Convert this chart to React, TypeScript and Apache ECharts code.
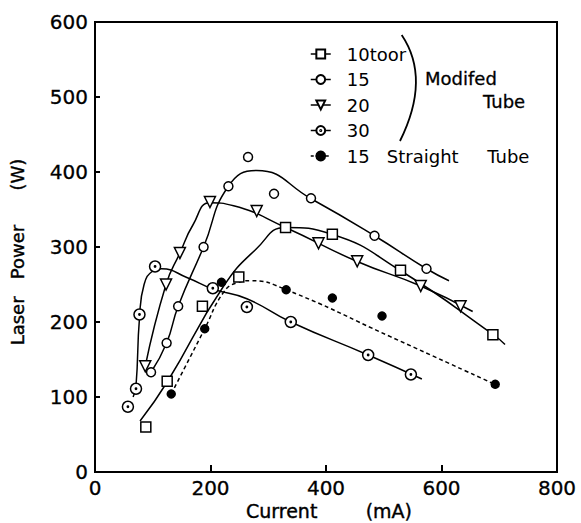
import React, { useEffect, useRef } from "react";
import * as echarts from "echarts";

// Tick values
const xTicks = [0, 200, 400, 600, 800];
const yTicks = [0, 100, 200, 300, 400, 500, 600];

// Series names (legend)
const names = ["10toor", "15", "20", "30", "15   Straight     Tube"];

// Measured points [current mA, laser power W]
const pts10 = [[88, 60], [125, 121], [186, 221], [249, 260], [330, 326], [411, 317], [529, 269], [689, 183]];
const pts15 = [[97, 133], [124, 172], [144, 221], [188, 300], [231, 381], [265, 420], [310, 371], [374, 365], [484, 315], [574, 271]];
const pts20 = [[87, 141], [123, 250], [147, 292], [199, 360], [280, 348], [387, 305], [454, 281], [564, 248], [633, 221]];
const pts30 = [[57, 87], [71, 111], [77, 210], [104, 274], [204, 245], [263, 220], [339, 200], [473, 156], [547, 130]];
const ptsStraight = [[132, 104], [190, 191], [219, 253], [331, 243], [411, 232], [497, 208], [693, 117]];

// Hand-drawn fitted curves
const fit10 = [[78, 68], [125, 120], [222, 247], [280, 298], [330, 326], [410, 317], [530, 268], [690, 183], [710, 170]];
const fit15 = [[97, 133], [124, 172], [144, 221], [188, 300], [231, 381], [280, 402], [375, 364], [484, 315], [574, 271], [613, 255]];
const fit20 = [[87, 141], [123, 250], [147, 292], [170, 330], [199, 359], [240, 355], [330, 326], [453, 281], [564, 248], [654, 214]];
const fit30 = [[66, 100], [71, 115], [77, 205], [85, 250], [100, 268], [115, 271], [160, 259], [204, 244], [263, 231], [339, 200], [473, 156], [566, 124]];
const fitStraight = [[132, 104], [190, 191], [222, 239], [245, 252], [270, 255], [331, 243], [510, 181], [692, 117]];

const FONT = "DejaVu Sans";
const dotCircle =
  "path://M20,10 A10,10 0 1,1 0,10 A10,10 0 1,1 20,10 Z M11.2,10 A1.2,1.2 0 1,1 8.8,10 A1.2,1.2 0 1,1 11.2,10 Z";

export default function App() {
  const ref = useRef<HTMLDivElement>(null);
  useEffect(() => {
    if (!ref.current) return;
    const chart = echarts.init(ref.current, null, { renderer: "svg" });

    const markerSeries = (name: string, data: number[][], symbol: string, size: number, fill: string, rotate = 0) => ({
      type: "line",
      name,
      data,
      symbol,
      symbolSize: size,
      symbolRotate: rotate,
      showSymbol: true,
      z: 5,
      lineStyle: { opacity: 0, width: 0 },
      itemStyle: { color: fill, borderColor: "#000", borderWidth: 1.5, opacity: 1 },
      emphasis: { disabled: true },
    });
    const curveSeries = (name: string, data: number[][], dashed = false) => ({
      type: "line",
      name,
      data,
      symbol: "none",
      showSymbol: false,
      smooth: 0.5,
      z: 2,
      lineStyle: { color: "#000", width: 1.5, type: dashed ? [4, 3] : "solid" },
      emphasis: { disabled: true },
    });

    chart.setOption({
      animation: false,
      backgroundColor: "#fff",
      grid: {
        left: 95, top: 22, width: 462, height: 450,
        show: true, borderColor: "#000", borderWidth: 2,
      },
      xAxis: {
        type: "value", min: xTicks[0], max: xTicks[xTicks.length - 1], interval: 200,
        axisLine: { lineStyle: { color: "#000", width: 2 } },
        axisTick: { inside: true, length: 7, lineStyle: { color: "#000", width: 2 } },
        axisLabel: { color: "#000", fontFamily: FONT, fontSize: 20, margin: 6, textBorderColor: "#000", textBorderWidth: 0.3 },
        splitLine: { show: false },
      },
      yAxis: {
        type: "value", min: yTicks[0], max: yTicks[yTicks.length - 1], interval: 100,
        axisLine: { lineStyle: { color: "#000", width: 2 } },
        axisTick: { inside: true, length: 5, lineStyle: { color: "#000", width: 2 } },
        axisLabel: { color: "#000", fontFamily: FONT, fontSize: 20, margin: 7, textBorderColor: "#000", textBorderWidth: 0.3 },
        splitLine: { show: false },
      },
      legend: {
        orient: "vertical", left: 305, top: 40,
        itemWidth: 20, itemHeight: 11, itemGap: 7.5,
        selectedMode: false,
        textStyle: { fontFamily: FONT, fontSize: 18, color: "#000", lineHeight: 18, padding: [0, 0, 0, 11] },
        lineStyle: { color: "#000", width: 1.5, opacity: 1, type: "solid" },
        data: [
          { name: names[0] },
          { name: names[1] },
          { name: names[2] },
          { name: names[3] },
          { name: names[4], lineStyle: { color: "#000", width: 1.5, opacity: 1, type: [3, 2] } },
        ],
      },
      graphic: [
        {
          type: "bezierCurve",
          shape: { x1: 401.7, y1: 35, x2: 400, y2: 141, cpx1: 431, cpy1: 78.5 },
          style: { stroke: "#000", lineWidth: 1.8, fill: null },
        },
        {
          type: "text", x: 425, y: 78,
          style: { text: "Modifed", font: `18px '${FONT}'`, fill: "#000", textVerticalAlign: "middle", stroke: "#000", lineWidth: 0.3 },
        },
        {
          type: "text", x: 483, y: 101,
          style: { text: "Tube", font: `18px '${FONT}'`, fill: "#000", textVerticalAlign: "middle", stroke: "#000", lineWidth: 0.3 },
        },
        {
          type: "text", x: 329, y: 511,
          style: { text: "Current        (mA)", font: `19px '${FONT}'`, fill: "#000", textAlign: "center", textVerticalAlign: "middle", stroke: "#000", lineWidth: 0.4 },
        },
        {
          type: "text", x: 17, y: 252, rotation: Math.PI / 2,
          style: { text: "Laser   Power      (W)", font: `18px '${FONT}'`, fill: "#000", textAlign: "center", textVerticalAlign: "middle", stroke: "#000", lineWidth: 0.4 },
        },
      ],
      series: [
        curveSeries("fit10", fit10),
        curveSeries("fit15", fit15),
        curveSeries("fit20", fit20),
        curveSeries("fit30", fit30),
        curveSeries("fitStraight", fitStraight, true),
        markerSeries(names[0], pts10, "rect", 10, "#fff"),
        markerSeries(names[1], pts15, "circle", 9, "#fff"),
        markerSeries(names[2], pts20, "triangle", 11, "#fff", 180),
        markerSeries(names[3], pts30, dotCircle, 11, "#fff"),
        markerSeries(names[4], ptsStraight, "circle", 8, "#000"),
      ],
    });
    return () => chart.dispose();
  }, []);
  return (
    <div
      ref={ref}
      style={{ position: "absolute", left: 0, top: 0, width: 581, height: 523, background: "#fff" }}
    />
  );
}
